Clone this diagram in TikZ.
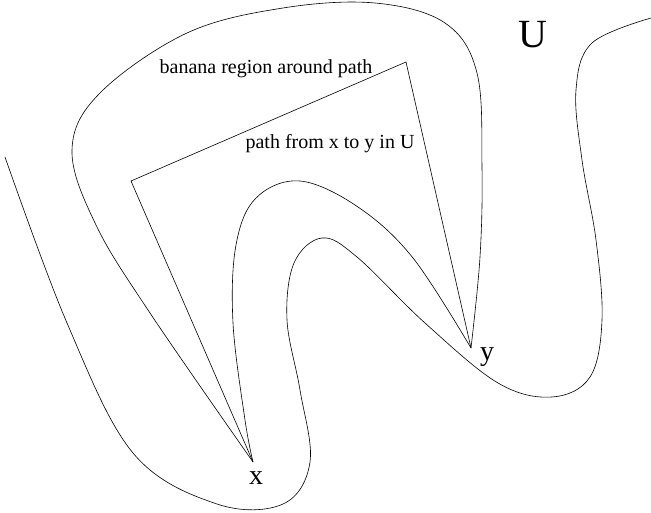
\documentclass[tikz,border=0pt]{standalone}
\usepackage{fontspec}
\setmainfont{Liberation Serif}
\begin{document}
\begin{tikzpicture}[x=1pt,y=-1pt,
  curve/.style={line width=0.6pt,black},
  lbl/.style={inner sep=0pt,anchor=base,font=\fontsize{20}{24}\selectfont},
  ptlbl/.style={inner sep=0pt,anchor=base,font=\fontsize{28}{32}\selectfont},
  biglbl/.style={inner sep=0pt,anchor=base,font=\fontsize{40}{44}\selectfont}]
\useasboundingbox (0,0) rectangle (651,513);
% boundary of U
\draw[curve] plot[smooth,tension=0.6] coordinates {(5,157) (67,323) (133,453) (217,504) (283,504) (310,462) (300,390) (287,320) (294,263) (322,238) (357,257) (425,323) (498,383) (552,397) (590,377) (602,320) (596,240) (582,160) (576,90) (592,43) (651,18)};
% path vertices
\coordinate (px) at (253,462);
\coordinate (pb) at (131,181);
\coordinate (pc) at (406,62);
\coordinate (py) at (471,348);
% banana region
\draw[curve] plot[smooth,tension=0.6] coordinates {(253,462) (150,313) (96,225) (72,150) (100,93) (187,33) (283,8) (375,3) (445,23) (477,73) (482,167) (480,257) (471,348)};
\draw[curve] plot[smooth,tension=0.6] coordinates {(471,348) (413,258) (358,207) (300,181) (256,198) (236,245) (233,323) (245,420) (253,462)};
% path
\draw[curve] (px) -- (pb) -- (pc) -- (py);
% labels
\node[lbl] (banana) at (266,74) {banana region around path};
\node[lbl] (pathlbl) at (330,149) {path from x to y in U};
\node[biglbl] (U) at (533,48) {U};
\node[ptlbl] (xlbl) at (256,484) {x};
\node[ptlbl] (ylbl) at (487,360) {y};
\end{tikzpicture}
\end{document}
